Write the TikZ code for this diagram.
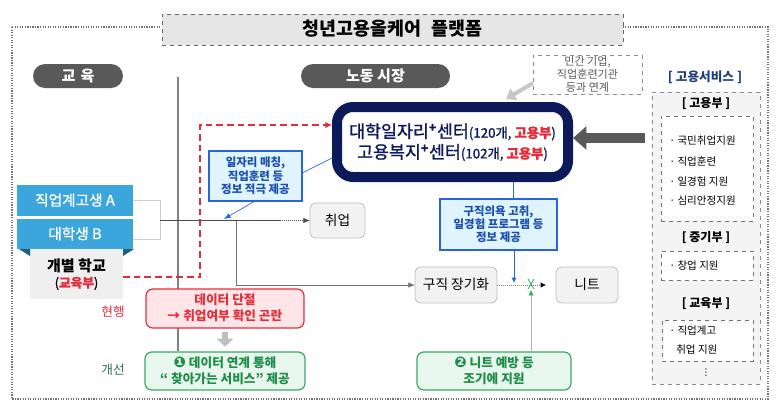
\documentclass[tikz,border=0pt]{standalone}
\usepackage{fontspec}
\setmainfont{Noto Sans CJK KR}
\newfontfamily\krmid{Noto Sans CJK KR}[FakeBold=1.2]
\newfontfamily\djv{DejaVu Sans}
\usetikzlibrary{arrows.meta,calc}
\definecolor{navy}{HTML}{0C1A5A}
\definecolor{pillgray}{HTML}{595959}
\definecolor{sky}{HTML}{3BA6DC}
\definecolor{darkteal}{HTML}{1B5E7E}
\definecolor{schoolgray}{HTML}{EFEFEF}
\definecolor{redc}{HTML}{E42D3A}
\definecolor{redfill}{HTML}{FFE5E7}
\definecolor{bluec}{HTML}{1B4FB0}
\definecolor{blueline}{HTML}{2A64D6}
\definecolor{bluefill}{HTML}{DFF4FC}
\definecolor{greenc}{HTML}{1E8C48}
\definecolor{greenline}{HTML}{3BA865}
\definecolor{greenfill}{HTML}{E8F7EE}
\definecolor{servfill}{HTML}{F4F4F4}
\definecolor{boxgray}{HTML}{F2F2F2}
\definecolor{titlefill}{HTML}{E6E6E6}
\definecolor{svcblue}{HTML}{1F3D7A}
\definecolor{imprgreen}{HTML}{2E7050}
\newcommand\fsz[2]{\fontsize{#1}{#2}\selectfont}
\newcommand\lh[1]{\raisebox{0pt}[0.8em][0.1em]{#1}}
\begin{document}
\begin{tikzpicture}[x=0.75pt,y=-0.75pt,
  bx/.style n args={4}{at={({(#1+#3)/2},{(#2+#4)/2})},minimum width={(#3-#1)*0.75pt},minimum height={(#4-#2)*0.75pt}},
  fb/.style={inner sep=0pt,outer sep=0pt,align=center,anchor=center},
  pill/.style={fb,fill=pillgray,rounded corners=9pt,text=white,font=\bfseries\fsz{11.3}{13}},
  stud/.style={fb,fill=sky,text=white,font=\krmid\fsz{11}{12}},
  gbox/.style={fb,fill=boxgray,draw=black!25,line width=0.6pt,rounded corners=4pt,font=\fsz{10.3}{12}},
  infobox/.style={fb,fill=bluefill,draw=blueline,line width=0.9pt,text=bluec,font=\bfseries\fsz{8.6}{9.9}},
  redbox/.style={fb,fill=redfill,draw=redc,line width=0.9pt,rounded corners=5pt,text=redc,font=\bfseries\fsz{9.5}{12}},
  grnbox/.style={fb,fill=greenfill,draw=greenline,line width=0.9pt,rounded corners=5pt,text=greenc,font=\bfseries\fsz{9.5}{12.5}},
  svcbox/.style={fb,draw=black!55,dashed,line width=0.5pt,fill=white},
  svchead/.style={inner sep=0pt,font=\bfseries\fsz{9}{11}},
  svcitem/.style={anchor=west,inner sep=0pt,font=\fsz{7.9}{10}},
  thinline/.style={draw=black!70,line width=0.5pt},
  bluethin/.style={draw=blueline,line width=0.5pt},
]
\useasboundingbox (0,0) rectangle (780,408);
% outer frame and divider
\draw[black!55,densely dotted,line width=0.9pt] (12,27) rectangle (768,399);
\draw[black!50,line width=1.5pt] (178,77) -- (178,351);
% title
\node[fb,fill=titlefill,draw=black!60,dashed,line width=0.5pt,font=\bfseries\fsz{13.8}{15},bx={162}{14}{623}{45}] (title) {\lh{청년고용올케어\hspace{0.55em}플랫폼}};
% pills
\node[pill,bx={33}{64}{123}{88}] (edu) {\lh{교\hspace{0.35em}육}};
\node[pill,bx={301}{64}{450}{88}] (labor) {\lh{노동 시장}};
% private box
\node[fb,draw=black!45,dashed,line width=0.5pt,text=black!65,font=\fsz{8.3}{9.75},bx={533}{55}{642}{94}] (priv) {\lh{민간 기업,}\\\lh{직업훈련기관}\\\lh{등과 연계}};
% center box
\node[fb,fill=white,draw=navy,line width=7.5pt,outer sep=3.75pt,rounded corners=12pt,text=navy,font=\krmid\fsz{13}{15.5},bx={337}{107}{568}{177}] (center)
 {\lh{대학일자리\textsuperscript{\textbf{+}}센터{\fsz{10}{15.5}(120개, \textcolor{redc}{\textbf{고용부}})}}\\\lh{고용복지\textsuperscript{\textbf{+}}센터{\fsz{10}{15.5}(102개, \textcolor{redc}{\textbf{고용부}})}}};
% services
\node[text=svcblue,inner sep=0pt,font=\bfseries\fsz{9.5}{11}] (svctitle) at (705,77) {\lh{[ 고용서비스 ]}};
\node[fb,fill=servfill,draw=black!45,dashed,line width=0.5pt,bx={652}{92}{760}{384}] (svc) {};
\node[svchead] (h1) at (706,103) {\lh{[ 고용부 ]}};
\node[svcbox,bx={661}{116}{753}{221}] (b1) {};
\node[svcitem] (i1) at (669,141) {\lh{· 국민취업지원}};
\node[svcitem] (i2) at (669,162) {\lh{· 직업훈련}};
\node[svcitem] (i3) at (669,182) {\lh{· 일경험 지원}};
\node[svcitem] (i4) at (669,201) {\lh{· 심리안정지원}};
\node[svchead] (h2) at (706,237) {\lh{[ 중기부 ]}};
\node[svcbox,bx={661}{251}{753}{280}] (b2) {};
\node[svcitem] (i5) at (669,266) {\lh{· 창업 지원}};
\node[svchead] (h3) at (706,303) {\lh{[ 교육부 ]}};
\node[svcbox,bx={662}{320}{753}{361}] (b3) {};
\node[svcitem] (i6) at (669,331) {\lh{· 직업계고}};
\node[svcitem] (i7) at (676,350) {\lh{취업 지원}};
\node[inner sep=0pt,font=\djv\fsz{7}{8}] (dots) at (706,373) {⋮};
% arrows into center
\draw[pillgray,line width=7pt,-{Triangle[length=10pt,width=17pt]}] (svc.west |- 0,138) ++(-7,0) -- (center.east |- 0,138);
\coordinate (privfoot) at (533,83);
\draw[black!22,line width=3pt,-{Triangle[length=7pt,width=10pt]}] (privfoot) -- (506,99);
% students
\node[stud,bx={17}{185}{133}{216}] (A) {\lh{직업계고생 A}};
\node[stud,bx={17}{219}{133}{249}] (B) {\lh{대학생 B}};
\node[fb,fill=schoolgray,bx={30}{249}{123}{299}] (school) {{\bfseries\fsz{11.3}{17}\lh{개별 학교}}\\{\krmid\fsz{9.5}{12}\lh{(\textcolor{redc}{\textbf{교육부}})}}};
\fill[darkteal] (19,249) -- (30,249) -- (30,256) -- cycle;
\fill[darkteal] (123,249) -- (134,249) -- (123,256) -- cycle;
\draw[black!20,line width=0.5pt] (A.east) -- (160,200.5) -- (160,239) -- (B.east |- 0,239);
% flow
\node[gbox,bx={310}{203}{365}{238}] (job) {\lh{취업}};
\node[gbox,bx={415}{267}{497}{303}] (seek) {\lh{구직 장기화}};
\node[gbox,bx={556}{267}{618}{303}] (neet) {\lh{니트}};
\coordinate (j) at (160,220.5);
\coordinate (br) at (236,220.5);
\coordinate (dotstart) at (280,220.5);
\draw[thinline] (j) -- (dotstart);
\draw[thinline,densely dotted,-{Latex[length=5pt,width=4pt]}] (dotstart) -- (job.west);
\draw[draw=black!55,line width=0.6pt,-{Latex[length=5pt,width=4pt]}] (br) |- (seek.west);
\draw[black!50,densely dotted,line width=0.5pt,-{Latex[length=4pt,width=4pt,color=black]},shorten >=7.5pt] (seek.east) -- (neet.west);
\draw[greenline,line width=0.6pt] (528,279) -- (534,289) (528,289) -- (534,279);
% info boxes
\node[infobox,bx={209}{151}{302}{201}] (info1) {\lh{일자리 매칭,}\\\lh{직업훈련 등}\\\lh{정보 적극 제공}};
\node[infobox,bx={440}{199}{557}{250}] (info2) {\lh{구직의욕 고취,}\\\lh{일경험 프로그램 등}\\\lh{정보 제공}};
\draw[bluethin] (info1.east |- 0,173) -- (center.west |- 0,158);
\draw[bluethin,-{Latex[length=5pt,width=4pt]}] (info1.south -| 255,0) -- (224,219);
\draw[bluethin] (center.south -| 513,0) -- (info2.north -| 513,0);
\draw[bluethin,line width=0.7pt,-{Latex[length=4pt,width=4pt]}] (info2.south -| 514,0) -- (514,283);
% red dashed
\draw[redc,line width=1pt,dash pattern=on 5pt off 3pt,-{Latex[length=5pt,width=5pt]}] (school.east |- 0,277) -- (200,277) -- (200,125) -- (center.west |- 0,125);
% bottom boxes
\node[redbox,bx={146}{289}{304}{328}] (gap) {\lh{데이터 단절}\\\lh{→ 취업여부 확인 곤란}};
\node[grnbox,bx={145}{352}{305}{390}] (fix) {\lh{{\djv\fsz{11}{12}❶} 데이터 연계 통해}\\\lh{“ 찾아가는 서비스” 제공}};
\node[grnbox,bx={417}{352}{571}{390}] (neet2) {\lh{{\djv\fsz{11}{12}❷} 니트 예방 등}\\\lh{조기에 지원}};
\draw[black!25,line width=5pt,-{Triangle[length=6pt,width=12pt]},shorten <=3pt,shorten >=4pt] (gap.south) -- (fix.north);
\draw[black!30,line width=0.5pt,-{Latex[length=4pt,width=4pt,color=greenline]}] (neet2.north -| 531,0) -- (531,290);
\node[text=redc,inner sep=0pt,font=\fsz{9.5}{11}] (now) at (113,312) {\lh{현행}};
\node[text=imprgreen,inner sep=0pt,font=\fsz{9.5}{11}] (impr) at (113,370) {\lh{개선}};
\end{tikzpicture}
\end{document}
